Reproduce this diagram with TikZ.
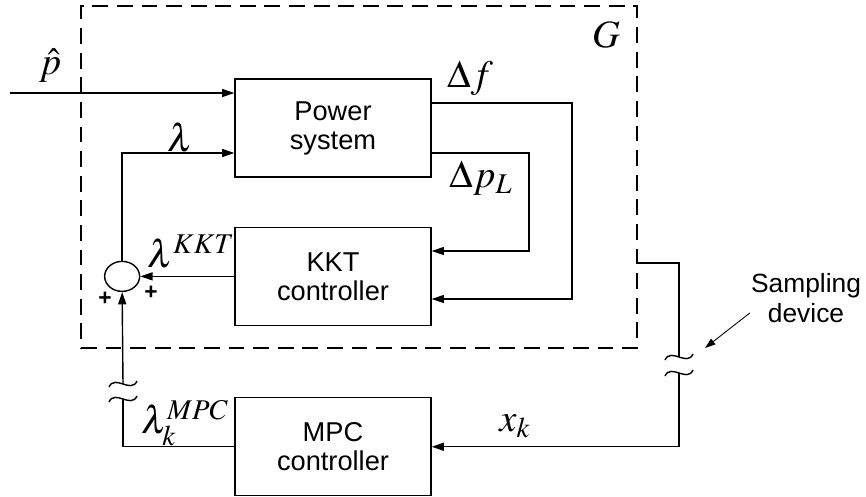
\documentclass[tikz,border=0pt]{standalone}
\usepackage{mathptmx}
\usepackage{fontspec}
\setsansfont{Liberation Sans}
\usepackage{tikz}
\usetikzlibrary{arrows.meta,positioning,shapes.geometric}

% tilde mark for a broken (sampled) line
\tikzset{
    brk/.pic={\draw (-14,3) .. controls (-8,-10) and (8,10) .. (14,-3);}
}

\begin{document}
\begin{tikzpicture}[
    x=0.02cm, y=-0.02cm,
    line width=0.8pt,
    node distance=1cm,
    box/.style={rectangle, draw, minimum width=3.92cm, minimum height=1.96cm,
                align=center, font=\sffamily\fontsize{15.5}{16.5}\selectfont},
    arrow/.style={-{Triangle[length=7pt,width=4.6pt]}},
    lbl/.style={font=\fontsize{22}{24}\selectfont, inner sep=0pt},
    plus/.style={font=\sffamily\bfseries\fontsize{13}{13}\selectfont, inner sep=0pt}
]
\useasboundingbox (0,0) rectangle (866,497);

\node[rectangle, draw, dash pattern=on 9pt off 5pt,
      minimum width=11.12cm, minimum height=6.84cm] (G) at (359,177) {};
\node[lbl] (glbl) at (606,35) {$G$};

\node[box] (power) at (333,128) {Power\\system};
\node[box, below=0.98cm of power] (kkt) {KKT\\controller};
\node[box, below=1.42cm of kkt] (mpc) {MPC\\controller};
\node[ellipse, draw, minimum width=0.7cm, minimum height=0.6cm,
      left=1.88cm of kkt] (sum) {};
\node[plus] (plusl) at (105,299) {+};
\node[plus] (plusr) at (151,293) {+};

% breaks in the sampled lines
\coordinate (brka) at (123,384);
\coordinate (brkb) at (123,399);
\coordinate (brkc) at (679,357);
\coordinate (brkd) at (679,373);
\foreach \c in {brka,brkb,brkc,brkd}
    \pic at (\c) {brk};

% signals into the plant
\coordinate (pin) at (10,93);
\draw[arrow] (pin) -- (pin -| power.west);
\draw[arrow] (sum.north) |- (power.west |- 0,153);
\node[lbl] (phatlbl) at (50,66) {$\hat{p}$};
\node[lbl] (lamlbl) at (180,137) {$\lambda$};

% measurements fed back
\draw[arrow] (power.east |- 0,103) -| (572,299) -- (kkt.east |- 0,299);
\draw[arrow] (power.east |- 0,153) -| (529,251) -- (kkt.east |- 0,251);
\node[lbl] (dflbl) at (470,78) {$\Delta f$};
\node[lbl] (dplbl) at (481,178) {$\Delta p_L$};

\draw[arrow] (kkt.west) -- (sum.east);
\node[lbl] (kktlbl) at (191,252) {$\lambda^{KKT}$};

% outer MPC loop
\draw (G.east |- 0,263) -| (brkc);
\draw[arrow] (brkd) |- (mpc.east);
\node[lbl] (xklbl) at (515,426) {$x_k$};
\draw (mpc.west) -| (brkb);
\draw[arrow] (brka) -- (sum.south);
\node[lbl] (mpclbl) at (185,423) {$\lambda_k^{MPC}$};

\node[align=center, font=\sffamily\fontsize{15}{17}\selectfont] (samp) at (806,298) {Sampling\\device};
\coordinate (samptip) at (705,348);
\draw[-{Triangle[length=6pt,width=4pt]}, line width=0.5pt] ([xshift=3pt,yshift=-0.3cm]samp.west) -- (samptip);
\end{tikzpicture}
\end{document}
